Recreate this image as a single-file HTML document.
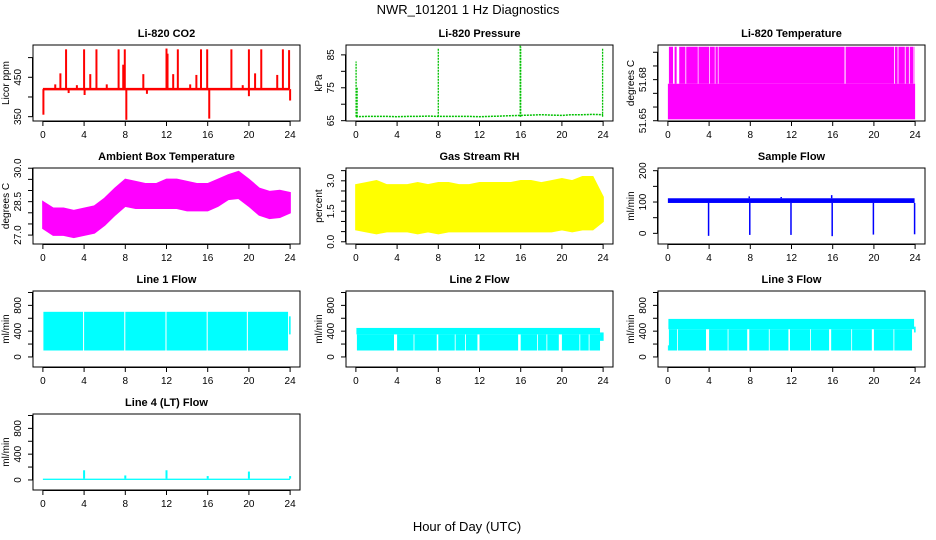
<!DOCTYPE html>
<html><head><meta charset="utf-8"><style>
html,body{margin:0;padding:0;background:#fff;}
svg{display:block;font-family:"Liberation Sans",sans-serif;}
</style></head><body>
<svg id="fig" width="936" height="540" viewBox="0 0 936 540" xmlns="http://www.w3.org/2000/svg">
<text x="468" y="14" text-anchor="middle" font-size="13">NWR_101201  1 Hz Diagnostics</text>
<text x="467" y="531" text-anchor="middle" font-size="13">Hour of Day (UTC)</text>
</svg>
<script>
// ---------- data ----------
const hours = [0,1,2,3,4,5,6,7,8,9,10,11,12,13,14,15,16,17,18,19,20,21,22,23,24];
const xTicks = [0,4,8,12,16,20,24];

const co2Base = 420;
const co2SpikeTimes = [2.25,4.0,5.2,7.35,7.95,12.0,13.1,15.35,15.95,18.3,20.0,21.2,23.3,23.9,1.7,4.6,9.75,12.65,14.9,20.6,22.75,1.2,3.3,6.2,14.3,19.4,7.8,12.1];
const co2SpikeVals  = [521,521,521,521,521,523,521,521,521,521,521,521,521,519,460,458,458,458,456,460,456,432,430,432,432,430,482,510];
const co2DipTimes = [0.05,8.1,16.15,24.0,4.05,20.0,10.1,2.5];
const co2DipVals  = [355,342,345,391,405,402,408,410];

const presBase = [66.2,66.3,66.3,66.3,66.2,66.3,66.3,66.4,66.3,66.3,66.3,66.3,66.2,66.3,66.4,66.5,66.6,66.7,66.8,66.7,66.6,66.8,66.8,66.9,66.8];
const presSpikeTimes = [0.02,0.12,8.0,15.95,16.0,23.95];
const presSpikeVals  = [83,75,87,88,87.5,87];

const tempBaseVal = 51.651, tempLowVal = 51.677, tempHighVal = 51.704;
const tempHighStart = 0.1, tempHighEnd = 23.9;
const tempGapStart = [0.5,0.85,1.7,2.9,4.0,4.55,4.85,17.15,21.95,22.3,23.0,23.4,23.8];
const tempGapEnd   = [0.65,1.1,1.78,2.97,4.07,4.62,4.92,17.25,22.03,22.38,23.08,23.48,23.85];

const ambHi = [28.5,28.2,28.2,28.1,28.2,28.3,28.65,29.1,29.5,29.4,29.3,29.3,29.5,29.5,29.4,29.3,29.3,29.5,29.7,29.85,29.5,29.1,28.95,29.0,28.9];
const ambLo = [27.3,27.0,27.0,26.9,27.0,27.1,27.45,27.9,28.3,28.2,28.2,28.2,28.2,28.2,28.1,28.1,28.1,28.3,28.6,28.65,28.3,27.9,27.75,27.8,28.0];

const rhHi = [2.8,2.9,3.0,2.8,2.8,2.8,2.9,2.8,2.9,2.9,2.8,2.8,2.9,2.9,2.9,2.9,3.0,3.0,2.9,3.0,3.1,3.0,3.2,3.2,2.2];
const rhLo = [0.6,0.5,0.4,0.5,0.5,0.5,0.4,0.5,0.4,0.5,0.5,0.5,0.5,0.5,0.5,0.5,0.5,0.5,0.5,0.5,0.6,0.5,0.6,0.6,1.0];

const sfLo = 97, sfHi = 112;
const sfDropTimes = [3.95,7.95,11.95,15.95,19.95,23.95];
const sfDropVals  = [-8,-5,-5,-9,-4,-3];
const sfPeakTimes = [15.9,7.9,11.0];
const sfPeakVals  = [122,118,116];

const l1Lo = 100, l1Hi = 700;
const l1BlockStart = [0.05,4.0,8.0,12.0,16.0,19.9];
const l1BlockEnd   = [3.9,7.9,11.9,15.9,19.8,23.8];
const l1End = [350,630];

const l2TopLo = 350, l2TopHi = 450, l2Lo = 100;
const l2GapStart = [3.7,5.6,7.85,9.6,10.6,11.8,15.75,17.6,18.5,19.7,21.7,22.6,23.7];
const l2GapEnd   = [4.0,5.68,8.0,9.68,10.68,12.0,16.0,17.68,18.58,20.0,21.78,22.68,24.0];

const l3TopLo = 430, l3TopHi = 590, l3Lo = 100;
const l3GapStart = [0.9,3.7,5.8,7.7,9.8,11.7,13.8,15.65,17.8,19.8,21.9,23.7];
const l3GapEnd   = [0.98,4.0,5.88,7.9,9.88,11.85,13.88,15.85,17.88,20.0,21.98,24.0];

const l4Base = [0,20];
const l4SpikeTimes = [4.0,8.0,12.0,16.0,20.0,24.0];
const l4SpikeVals  = [150,70,150,60,130,60];

// ---------- layout ----------
const svg = document.getElementById('fig');
const NS = 'http://www.w3.org/2000/svg';
const colX = [33,346,658], rowY = [45,168,291,414], W = 267, H = 76;
function mk(tag, attrs, parent){
  const e = document.createElementNS(NS, tag);
  for (const k in attrs) e.setAttribute(k, attrs[k]);
  (parent||svg).appendChild(e); return e;
}
function panel(name, col, row, title, ylab, ylim, ticks, labels, labelFmt){
  const L = colX[col], T = rowY[row];
  const g = mk('g', {});
  
  
  const sx = t => L + (t + 0.96) / 25.92 * W;
  const sy = v => T + H - (v - ylim[0]) / (ylim[1] - ylim[0]) * H;
  const plot = mk('g', {}, g);
  
  
  const box = mk('rect', {x:L, y:T, width:W, height:H, fill:'none', stroke:'#000', 'stroke-width':1}, g);
  
  
  const tt = mk('text', {x:L+W/2, y:T-8, 'text-anchor':'middle', 'font-size':11, 'font-weight':'bold'}, g);
  
  
  tt.textContent = title;
  // x axis
  const xa = mk('g', {}, g);
  
  
  mk('line', {x1:sx(xTicks[0]), x2:sx(xTicks[xTicks.length-1]), y1:T+H+0.5, y2:T+H+0.5, stroke:'#000'}, xa);
  xTicks.forEach(t => {
    mk('line', {x1:sx(t), x2:sx(t), y1:T+H, y2:T+H+5, stroke:'#000'}, xa);
    const tl = mk('text', {x:sx(t), y:T+H+17, 'text-anchor':'middle', 'font-size':10}, xa);
    
    
    tl.textContent = t;
  });
  // y axis
  const ya = mk('g', {}, g);
  
  
  mk('line', {x1:L-0.5, x2:L-0.5, y1:sy(ticks[0]), y2:sy(ticks[ticks.length-1]), stroke:'#000'}, ya);
  ticks.forEach(v => mk('line', {x1:L-5, x2:L, y1:sy(v), y2:sy(v), stroke:'#000'}, ya));
  labels.forEach(v => {
    const yy = sy(v);
    const tl = mk('text', {x:L-12, y:yy, 'text-anchor':'middle', 'font-size':10, transform:`rotate(-90 ${L-12} ${yy})`}, ya);
    
    
    tl.textContent = labelFmt ? labelFmt(v) : v;
  });
  const yt = mk('text', {x:L-24, y:T+H/2, 'text-anchor':'middle', 'font-size':10, transform:`rotate(-90 ${L-24} ${T+H/2})`}, ya);
  
  
  yt.textContent = ylab;
  return {sx, sy, plot};
}
function vline(p, t, v1, v2, color, w, nm){
  const e = mk('line', {x1:p.sx(t), x2:p.sx(t), y1:p.sy(v1), y2:p.sy(v2), stroke:color, 'stroke-width':w||1.5}, p.plot);
  
  
  return e;
}
function rect(p, t1, t2, v1, v2, color, nm){
  const x = p.sx(t1), x2 = p.sx(t2), y = p.sy(v2), y2 = p.sy(v1);
  const e = mk('rect', {x:x, y:y, width:Math.max(x2-x,0.8), height:Math.max(y2-y,0.8), fill:color}, p.plot);
  
  
  return e;
}
function band(p, hi, lo, color, nm){
  let d = '';
  hours.forEach((h,i) => { d += (i ? 'L' : 'M') + p.sx(h).toFixed(1) + ',' + p.sy(hi[i]).toFixed(1); });
  for (let i = hours.length-1; i >= 0; i--) d += 'L' + p.sx(hours[i]).toFixed(1) + ',' + p.sy(lo[i]).toFixed(1);
  const e = mk('path', {d:d+'Z', fill:color, stroke:color, 'stroke-width':1.5}, p.plot);
  
  
}

// ---------- CO2 ----------
{
  const p = panel('co2', 0, 0, 'Li-820 CO2', 'Licor ppm', [339,532], [350,400,450,500], [350,450]);
  const b = mk('line', {x1:p.sx(0), x2:p.sx(23.9), y1:p.sy(co2Base), y2:p.sy(co2Base), stroke:'#f00', 'stroke-width':2.5}, p.plot);
  
  
  co2SpikeTimes.forEach((t,i) => vline(p, t, co2Base, co2SpikeVals[i], '#f00', 2, 'co2-spike'));
  co2DipTimes.forEach((t,i) => vline(p, t, co2Base, co2DipVals[i], '#f00', 2, 'co2-dip'));
}
// ---------- Pressure ----------
{
  const p = panel('pressure', 1, 0, 'Li-820 Pressure', 'kPa', [64.9,88], [65,70,75,80,85], [65,75,85]);
  let d = '';
  hours.forEach((h,i) => { d += (i ? 'L' : 'M') + p.sx(h).toFixed(1) + ',' + p.sy(presBase[i]).toFixed(1); });
  const e = mk('path', {d:d, fill:'none', stroke:'#00c000', 'stroke-width':1.5, 'stroke-dasharray':'2,1'}, p.plot);
  
  
  presSpikeTimes.forEach((t,i) => vline(p, t, 66.2, presSpikeVals[i], '#00c000', 1.3, 'pressure-spike').setAttribute('stroke-dasharray','2,1'));
}
// ---------- Li-820 Temperature ----------
{
  const p = panel('li820-temp', 2, 0, 'Li-820 Temperature', 'degrees C', [51.6498,51.7053], [51.65,51.66,51.67,51.68,51.69,51.70], [51.65,51.68], v => v.toFixed(2).replace(/0$/,'').replace('51.6','51.6'));
  rect(p, 0, 24, tempBaseVal, tempLowVal, '#f0f', 'temp-low-band');
  let s = tempHighStart;
  tempGapStart.forEach((g,i) => { rect(p, s, g, tempLowVal, tempHighVal, '#f0f', 'temp-high-block'); s = tempGapEnd[i]; });
  rect(p, s, tempHighEnd, tempLowVal, tempHighVal, '#f0f', 'temp-high-block');
}
// ---------- Ambient ----------
{
  const p = panel('ambient-temp', 0, 1, 'Ambient Box Temperature', 'degrees C', [26.6,30.01], [27,27.5,28,28.5,29,29.5,30], [27,28.5,30], v => v.toFixed(1));
  band(p, ambHi, ambLo, '#f0f', 'ambient-temp-band');
}
// ---------- RH ----------
{
  const p = panel('gas-rh', 1, 1, 'Gas Stream RH', 'percent', [-0.11,3.63], [0,0.5,1,1.5,2,2.5,3,3.5], [0,1.5,3], v => v.toFixed(1));
  band(p, rhHi, rhLo, '#ff0', 'rh-band');
}
// ---------- Sample Flow ----------
{
  const p = panel('sample-flow', 2, 1, 'Sample Flow', 'ml/min', [-34,208.6], [0,50,100,150,200], [0,100,200]);
  rect(p, 0, 23.95, sfLo, sfHi, '#00f', 'sample-flow-band');
  sfDropTimes.forEach((t,i) => vline(p, t, sfLo, sfDropVals[i], '#00f', 1.5, 'sample-flow-drop'));
  sfPeakTimes.forEach((t,i) => vline(p, t, sfHi, sfPeakVals[i], '#00f', 1.5, 'sample-flow-peak'));
}
const flowY = [-156,1023], flowTicks = [0,200,400,600,800,1000], flowLabels = [0,400,800];
// ---------- Line 1 ----------
{
  const p = panel('line1-flow', 0, 2, 'Line 1 Flow', 'ml/min', flowY, flowTicks, flowLabels);
  l1BlockStart.forEach((s,i) => rect(p, s, l1BlockEnd[i], l1Lo, l1Hi, '#0ff', 'line1-block'));
  rect(p, 23.9, 24.05, l1End[0], l1End[1], '#0ff', 'line1-end');
}
// ---------- Line 2 ----------
{
  const p = panel('line2-flow', 1, 2, 'Line 2 Flow', 'ml/min', flowY, flowTicks, flowLabels);
  rect(p, 0.05, 23.7, l2TopLo, l2TopHi, '#0ff', 'line2-top-band');
  let s = 0.1;
  l2GapStart.forEach((g,i) => { rect(p, s, g, l2Lo, l2TopLo, '#0ff', 'line2-block'); s = l2GapEnd[i]; });
  rect(p, 23.7, 24.05, 250, 380, '#0ff', 'line2-end');
}
// ---------- Line 3 ----------
{
  const p = panel('line3-flow', 2, 2, 'Line 3 Flow', 'ml/min', flowY, flowTicks, flowLabels);
  rect(p, 0.05, 23.9, l3TopLo, l3TopHi, '#0ff', 'line3-top-band');
  rect(p, 0, 0.1, 100, 180, '#0ff', 'line3-start');
  let s = 0.1;
  l3GapStart.forEach((g,i) => { rect(p, s, g, l3Lo, l3TopLo, '#0ff', 'line3-block'); s = l3GapEnd[i]; });
  rect(p, 23.9, 24.05, 380, 470, '#0ff', 'line3-end');
}
// ---------- Line 4 ----------
{
  const p = panel('line4-flow', 0, 3, 'Line 4 (LT) Flow', 'ml/min', flowY, flowTicks, flowLabels);
  rect(p, 0, 24, l4Base[0], l4Base[1], '#0ff', 'line4-band');
  l4SpikeTimes.forEach((t,i) => vline(p, t, l4Base[1], l4SpikeVals[i], '#0ff', 2, 'line4-spike'));
}
</script>
</body></html>
